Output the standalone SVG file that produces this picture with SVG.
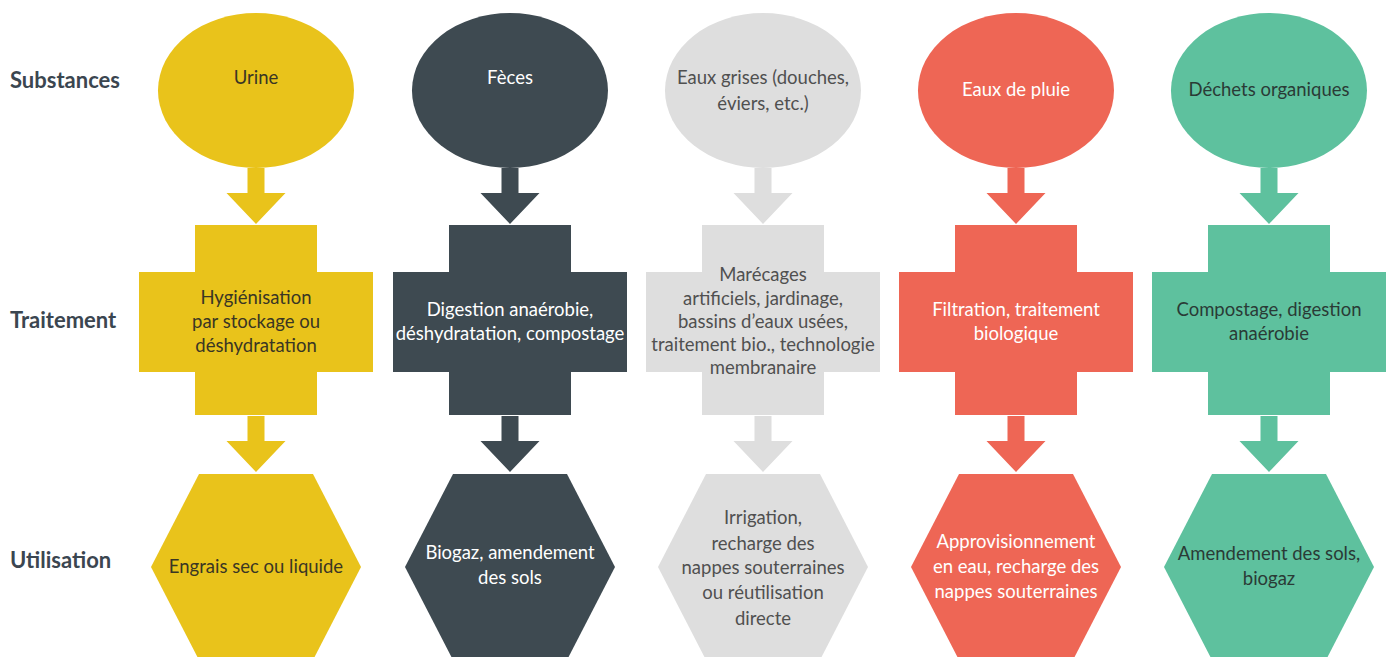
<svg xmlns="http://www.w3.org/2000/svg" width="1391" height="657" viewBox="0 0 1391 657">
<style>
text{font-family:Lato,"Open Sans","Liberation Sans",sans-serif;text-anchor:middle;font-size:18.5px}
.row{font-size:22px;font-weight:bold;fill:#3b4650;text-anchor:start}
.y{fill:#E9C31B}.d{fill:#3E4A51}.g{fill:#DEDEDE}.r{fill:#EE6655}.e{fill:#5EC19E}
.ty{fill:#3a3624}.td{fill:#ffffff}.tg{fill:#505050}.tr{fill:#ffffff}.te{fill:#2a3b36}
</style>
<defs>
<path id="arr" d="M-8.5,0 H8.5 V25 H29.5 L0,56 L-29.5,25 H-8.5 Z"/>
<path id="cross" d="M-61,225 H61 V272 H117 V372 H61 V415 H-61 V372 H-117 V272 H-61 Z"/>
<path id="hex" d="M-57,474 H57 L105,567 L57,660 H-57 L-105,567 Z"/>
</defs>
<rect width="1391" height="657" fill="#ffffff"/>
<g id="row-labels">
<text class="row" x="10" y="88">Substances</text>
<text class="row" x="10" y="328">Traitement</text>
<text class="row" x="10" y="568">Utilisation</text>
</g>
<g id="connectors">
<use href="#arr" class="y" x="256" y="168"/><use href="#arr" class="y" x="256" y="416"/>
<use href="#arr" class="d" x="510" y="168"/><use href="#arr" class="d" x="510" y="416"/>
<use href="#arr" class="g" x="763" y="168"/><use href="#arr" class="g" x="763" y="416"/>
<use href="#arr" class="r" x="1016" y="168"/><use href="#arr" class="r" x="1016" y="416"/>
<use href="#arr" class="e" x="1269" y="168"/><use href="#arr" class="e" x="1269" y="416"/>
</g>
<g id="urine">
<ellipse class="y" cx="256" cy="90.5" rx="98" ry="77.5"/>
<text class="ty" x="256" y="84">Urine</text>
</g>
<g id="urine-traitement">
<use href="#cross" class="y" x="256"/>
<text class="ty" x="256" y="304">Hygiénisation</text>
<text class="ty" x="256" y="328">par stockage ou</text>
<text class="ty" x="256" y="352">déshydratation</text>
</g>
<g id="urine-utilisation">
<use href="#hex" class="y" x="256"/>
<text class="ty" x="256" y="573">Engrais sec ou liquide</text>
</g>
<g id="feces">
<ellipse class="d" cx="510" cy="90.5" rx="98" ry="77.5"/>
<text class="td" x="510" y="84">Fèces</text>
</g>
<g id="feces-traitement">
<use href="#cross" class="d" x="510"/>
<text class="td" x="510" y="316">Digestion anaérobie,</text>
<text class="td" x="510" y="340">déshydratation, compostage</text>
</g>
<g id="feces-utilisation">
<use href="#hex" class="d" x="510"/>
<text class="td" x="510" y="559">Biogaz, amendement</text>
<text class="td" x="510" y="584">des sols</text>
</g>
<g id="eaux-grises">
<ellipse class="g" cx="763" cy="90.5" rx="98" ry="77.5"/>
<text class="tg" x="763" y="84">Eaux grises (douches,</text>
<text class="tg" x="763" y="110">éviers, etc.)</text>
</g>
<g id="eaux-grises-traitement">
<use href="#cross" class="g" x="763"/>
<text class="tg" x="763" y="281">Marécages</text>
<text class="tg" x="763" y="305">artificiels, jardinage,</text>
<text class="tg" x="763" y="328">bassins d’eaux usées,</text>
<text class="tg" x="763" y="351">traitement bio., technologie</text>
<text class="tg" x="763" y="374">membranaire</text>
</g>
<g id="eaux-grises-utilisation">
<use href="#hex" class="g" x="763"/>
<text class="tg" x="763" y="524">Irrigation,</text>
<text class="tg" x="763" y="550">recharge des</text>
<text class="tg" x="763" y="574">nappes souterraines</text>
<text class="tg" x="763" y="599">ou réutilisation</text>
<text class="tg" x="763" y="625">directe</text>
</g>
<g id="eaux-pluie">
<ellipse class="r" cx="1016" cy="90.5" rx="98" ry="77.5"/>
<text class="tr" x="1016" y="96">Eaux de pluie</text>
</g>
<g id="eaux-pluie-traitement">
<use href="#cross" class="r" x="1016"/>
<text class="tr" x="1016" y="316">Filtration, traitement</text>
<text class="tr" x="1016" y="340">biologique</text>
</g>
<g id="eaux-pluie-utilisation">
<use href="#hex" class="r" x="1016"/>
<text class="tr" x="1016" y="548">Approvisionnement</text>
<text class="tr" x="1016" y="573">en eau, recharge des</text>
<text class="tr" x="1016" y="598">nappes souterraines</text>
</g>
<g id="dechets">
<ellipse class="e" cx="1269" cy="90.5" rx="98" ry="77.5"/>
<text class="te" x="1269" y="96">Déchets organiques</text>
</g>
<g id="dechets-traitement">
<use href="#cross" class="e" x="1269"/>
<text class="te" x="1269" y="316">Compostage, digestion</text>
<text class="te" x="1269" y="340">anaérobie</text>
</g>
<g id="dechets-utilisation">
<use href="#hex" class="e" x="1269"/>
<text class="te" x="1269" y="560">Amendement des sols,</text>
<text class="te" x="1269" y="585">biogaz</text>
</g>
</svg>
